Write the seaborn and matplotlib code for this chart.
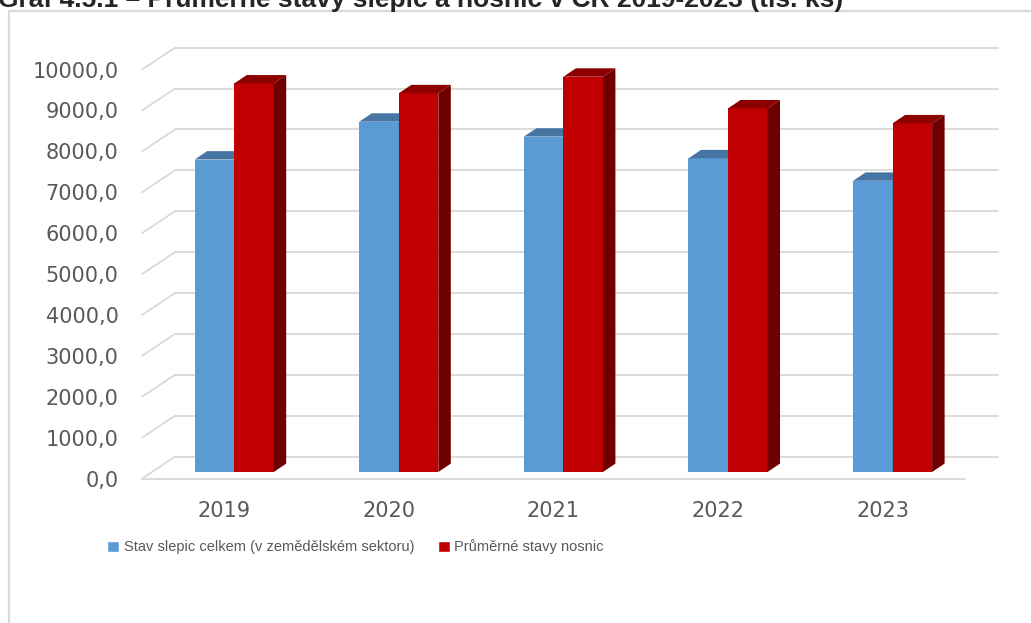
import numpy as np
import pandas as pd
import seaborn as sns
import matplotlib
matplotlib.use("Agg")
import matplotlib.pyplot as plt
from matplotlib.patches import Patch, Polygon
from matplotlib.lines import Line2D
from matplotlib.transforms import ScaledTranslation, IdentityTransform

# data (tis. ks)
years = ["2019", "2020", "2021", "2022", "2023"]
stav_slepic = [7640, 8565, 8200, 7670, 7120]
stavy_nosnic = [9500, 9260, 9665, 8890, 8525]
series_names = ["Stav slepic celkem (v zemědělském sektoru)", "Průměrné stavy nosnic"]
y_ticks = list(range(0, 10001, 1000))
title = "Graf 4.5.1 – Průměrné stavy slepic a nosnic v ČR 2019-2023 (tis. ks)"

df = pd.DataFrame({
    "rok": years * 2,
    "hodnota": stav_slepic + stavy_nosnic,
    "rada": [series_names[0]] * len(years) + [series_names[1]] * len(years),
})

W, H, DPI = 1031, 623, 100
blue, red = "#5B9BD5", "#C00000"
face_colors = {  # front -> (top, side)
    blue: ("#4675A3", "#3A6390"),
    red: ("#8E0000", "#700000"),
}
grid_col = "#D9D9D9"
text_col = "#595959"

sns.set_style("white")
plt.rcParams["font.family"] = ["DejaVu Sans"]

fig = plt.figure(figsize=(W / DPI, H / DPI), dpi=DPI)
# axes = front plane of the 3d box
ax = fig.add_axes([142 / W, (H - 478.6) / H, 823 / W, 409 / H])

sns.barplot(
    data=df, x="rok", y="hodnota", hue="rada",
    palette=[blue, red], width=0.48, gap=0, saturation=1,
    legend=False, ax=ax, zorder=2,
)
ax.set_xlim(-0.5, len(years) - 0.5)
ax.set_ylim(0, 10000)

depth = np.array([33.0, 22.0])      # full floor depth in pixels (right, up)
bar_front = 0.30 * depth            # where bar faces sit
bar_depth = np.array([12.5, 8.4])   # thickness of bars

back = ax.transData + ScaledTranslation(depth[0] / DPI, depth[1] / DPI, fig.dpi_scale_trans)
bar_tr = ax.transData + ScaledTranslation(bar_front[0] / DPI, bar_front[1] / DPI, fig.dpi_scale_trans)

# gridlines on back wall + diagonals on the left side
for v in y_ticks:
    ax.plot([-0.5, len(years) - 0.5], [v, v], transform=back, color=grid_col,
            lw=1.3, clip_on=False, zorder=0)
    p0 = ax.transData.transform((-0.5, v))
    p1 = p0 + depth
    ax.add_line(Line2D([p0[0], p1[0]], [p0[1], p1[1]], transform=IdentityTransform(),
                       color=grid_col, lw=1.3, clip_on=False, zorder=0))
ax.plot([-0.5, len(years) - 0.5], [0, 0], color=grid_col, lw=1.3, clip_on=False, zorder=0)

# 3d faces for each bar
for p in list(ax.patches):
    fc = matplotlib.colors.to_hex(p.get_facecolor()).upper()
    z = 2 if fc == blue.upper() else 3
    p.set_transform(bar_tr)
    p.set_clip_on(False)
    p.set_zorder(z)
    p.set_edgecolor("none")
    x0, x1, h = p.get_x(), p.get_x() + p.get_width(), p.get_height()
    a = bar_tr.transform((x0, h))
    b = bar_tr.transform((x1, h))
    c = bar_tr.transform((x1, 0))
    top_c, side_c = face_colors[blue] if z == 2 else face_colors[red]
    ax.add_patch(Polygon([a, b, b + bar_depth, a + bar_depth], closed=True,
                         facecolor=top_c, edgecolor="none", transform=IdentityTransform(),
                         clip_on=False, zorder=z))
    ax.add_patch(Polygon([c, b, b + bar_depth, c + bar_depth], closed=True,
                         facecolor=side_c, edgecolor="none", transform=IdentityTransform(),
                         clip_on=False, zorder=z))

ax.set_yticks(y_ticks)
ax.set_yticklabels([f"{v:.1f}".replace(".", ",") for v in y_ticks])
ax.tick_params(axis="y", length=0, pad=17, labelsize=15, labelcolor=text_col)
ax.tick_params(axis="x", length=0, pad=16, labelsize=15, labelcolor=text_col)
ax.set_xlabel("")
ax.set_ylabel("")
sns.despine(ax=ax, left=True, bottom=True)

# chart frame (only top and left edges are in view)
fig.add_artist(Line2D([8.5 / W, 8.5 / W], [0, (H - 11) / H], transform=fig.transFigure,
                      color=grid_col, lw=1.6))
fig.add_artist(Line2D([8.5 / W, 1], [(H - 11) / H, (H - 11) / H], transform=fig.transFigure,
                      color=grid_col, lw=1.6))

# title sits above the visible crop, only its lower part shows
fig.text(-2 / W, 1 - 7 / H, title, fontsize=19, fontweight="bold",
         family=["Liberation Sans", "DejaVu Sans"], ha="left", va="baseline")

fig.legend(
    handles=[Patch(facecolor=blue), Patch(facecolor=red)], labels=series_names,
    loc="center left", bbox_to_anchor=(107 / W, 1 - 547 / H), ncol=2, frameon=False,
    handlelength=0.85, handleheight=0.85, handletextpad=0.3, columnspacing=1.6,
    borderaxespad=0, borderpad=0, labelcolor=text_col,
    prop={"family": ["Liberation Sans", "DejaVu Sans"], "size": 10.5},
)

fig.savefig("out.png", dpi=DPI)
